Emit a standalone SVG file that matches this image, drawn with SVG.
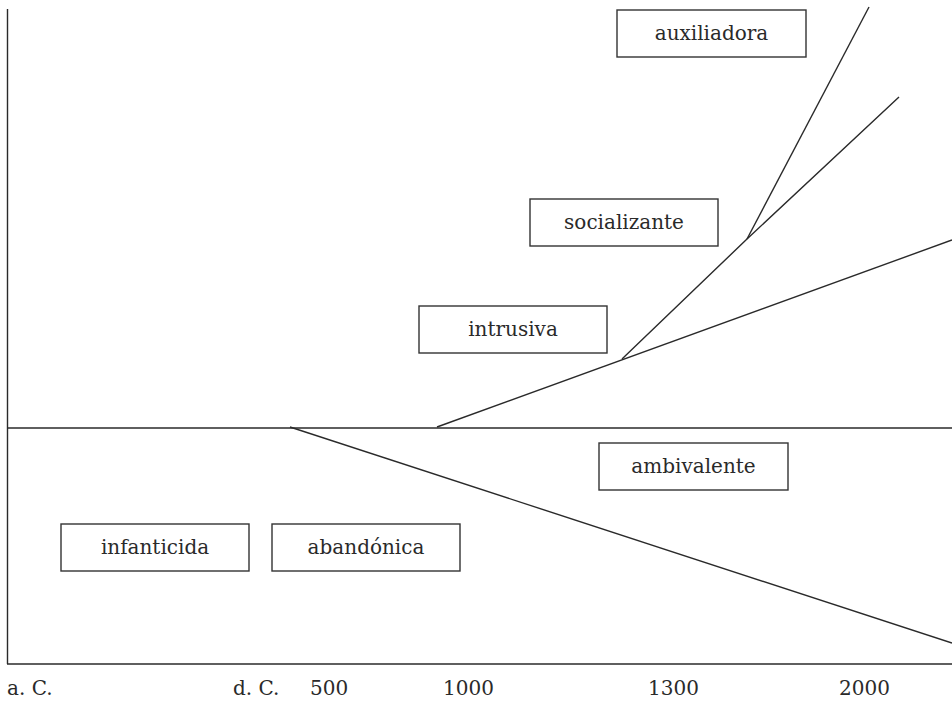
<svg xmlns="http://www.w3.org/2000/svg" width="952" height="701" viewBox="0 0 952 701">
<style>
.box{fill:#fff;stroke:#333;stroke-width:1.4}
.ln{stroke:#2a2a2a;stroke-width:1.4;fill:none}
text{font-family:"DejaVu Serif","Liberation Serif",serif;font-size:20px;fill:#2a2a2a}
.c{text-anchor:middle}
</style>
<rect width="952" height="701" fill="#fff"/>
<g id="connectors">
<line class="ln" x1="7.5" y1="9" x2="7.5" y2="664"/>
<line class="ln" x1="7" y1="664" x2="952" y2="664"/>
<line class="ln" x1="7" y1="428" x2="952" y2="428"/>
<line class="ln" x1="290" y1="427" x2="952" y2="643"/>
<line class="ln" x1="437" y1="427" x2="952" y2="240"/>
<polyline class="ln" points="622,359 747,239 899,97"/>
<line class="ln" x1="747" y1="239" x2="869" y2="7"/>
</g>
<g id="auxiliadora"><rect class="box" x="617" y="10" width="189" height="47"/><text class="c" x="711.5" y="40">auxiliadora</text></g>
<g id="socializante"><rect class="box" x="530" y="199" width="188" height="47"/><text class="c" x="624" y="229">socializante</text></g>
<g id="intrusiva"><rect class="box" x="419" y="306" width="188" height="47"/><text class="c" x="513" y="336">intrusiva</text></g>
<g id="ambivalente"><rect class="box" x="599" y="443" width="189" height="47"/><text class="c" x="693.5" y="473">ambivalente</text></g>
<g id="infanticida"><rect class="box" x="61" y="524" width="188" height="47"/><text class="c" x="155" y="554">infanticida</text></g>
<g id="abandonica"><rect class="box" x="272" y="524" width="188" height="47"/><text class="c" x="366" y="554">abandónica</text></g>
<g id="axis-labels">
<text x="7" y="695">a. C.</text>
<text x="233" y="695">d. C.</text>
<text x="310" y="695">500</text>
<text x="443" y="695">1000</text>
<text x="648" y="695">1300</text>
<text x="839" y="695">2000</text>
</g>
</svg>
